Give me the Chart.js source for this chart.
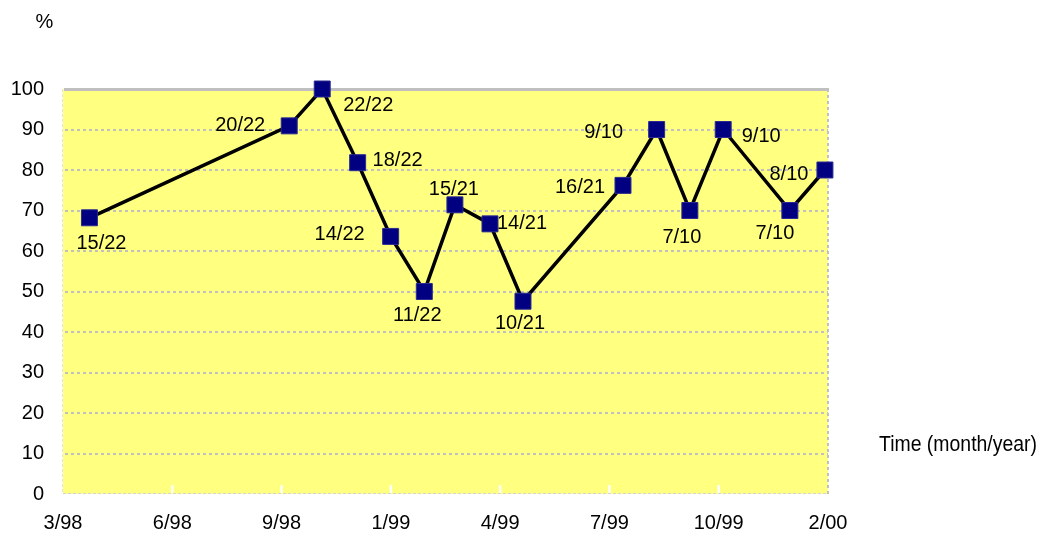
<!DOCTYPE html>
<html><head><meta charset="utf-8">
<script src="https://cdn.jsdelivr.net/npm/chart.js@4.4.0/dist/chart.umd.min.js"></script>
<style>html,body{margin:0;padding:0;background:#fff;overflow:hidden;}</style>
</head><body>
<canvas id="c" width="1045" height="538"></canvas>
<script>
// ---- data ----
const tickLabels = ['3/98','6/98','9/98','1/99','4/99','7/99','10/99','2/00'];
// x position of each observation, in units of the (equally spaced) axis ticks
const xPositions = [0.242,2.070,2.372,2.696,2.998,3.306,3.586,3.907,4.209,5.124,5.432,5.736,6.041,6.651,6.972];
const percentValues = [68.2,90.9,100,81.8,63.6,50,71.4,66.7,47.6,76.2,90,70,90,70,80];
const pointLabels = ['15/22','20/22','22/22','18/22','14/22','11/22','15/21','14/21','10/21','16/21','9/10','7/10','9/10','7/10','8/10'];
// label placement relative to each marker (pixels)
const labelOffsets = [[12,26],[-49,0],[46,16],[40,-2],[-51,-2],[-7,24],[-1,-15],[32,0],[-3,22],[-43,2],[-53,3],[-8,27],[38,7],[-15,23],[-36,4]];

const FONT = '"Liberation Sans", Arial, sans-serif';

const plotDecor = {
  id: 'plotDecor',
  beforeDatasetsDraw(chart) {
    const {ctx, chartArea: a, scales: {x, y}} = chart;
    ctx.save();
    ctx.fillStyle = '#ffff80';
    ctx.fillRect(a.left, a.top, a.right - a.left, a.bottom - a.top);
    // dotted grid lines
    ctx.strokeStyle = '#c0c0c0';
    ctx.lineWidth = 2;
    ctx.setLineDash([3, 3]);
    for (let v = 10; v < 100; v += 10) {
      const py = Math.round(y.getPixelForValue(v));
      ctx.beginPath(); ctx.moveTo(a.left + 2, py); ctx.lineTo(a.right, py); ctx.stroke();
    }
    // right border dotted
    ctx.beginPath(); ctx.moveTo(a.right, a.top); ctx.lineTo(a.right, a.bottom); ctx.stroke();
    // top line solid
    ctx.setLineDash([]);
    ctx.lineWidth = 3;
    ctx.beginPath(); ctx.moveTo(a.left + 1, y.getPixelForValue(100) + 0.5); ctx.lineTo(a.right + 1, y.getPixelForValue(100) + 0.5); ctx.stroke();
    // bottom & left light dashed borders
    ctx.lineWidth = 1;
    ctx.strokeStyle = '#d4d4d4';
    ctx.setLineDash([3, 2]);
    ctx.beginPath(); ctx.moveTo(a.left, a.bottom - 0.5); ctx.lineTo(a.right, a.bottom - 0.5); ctx.stroke();
    ctx.strokeStyle = '#e4e4e4';
    ctx.beginPath(); ctx.moveTo(a.left - 0.5, a.top); ctx.lineTo(a.left - 0.5, a.bottom); ctx.stroke();
    // white inner tick marks on x axis
    ctx.setLineDash([]);
    ctx.strokeStyle = '#ffffff';
    ctx.lineWidth = 2.5;
    for (let i = 1; i < tickLabels.length - 1; i++) {
      const px = x.getPixelForValue(i);
      ctx.beginPath(); ctx.moveTo(px, a.bottom - 1); ctx.lineTo(px, a.bottom - 9); ctx.stroke();
    }
    ctx.restore();
  },
  afterDatasetsDraw(chart) {
    const {ctx} = chart;
    const meta = chart.getDatasetMeta(0);
    ctx.save();
    ctx.fillStyle = '#000';
    ctx.font = '20px ' + FONT;
    ctx.textAlign = 'center';
    ctx.textBaseline = 'middle';
    meta.data.forEach((pt, i) => {
      ctx.fillText(pointLabels[i], pt.x + labelOffsets[i][0], pt.y + labelOffsets[i][1]);
    });
    // axis titles
    ctx.fillText('%', 44.5, 22.5);
    ctx.font = '22px ' + FONT;
    const t = 'Time (month/year)';
    const w = ctx.measureText(t).width;
    ctx.translate(958, 445);
    ctx.scale(158 / w, 1);
    ctx.fillText(t, 0, 0);
    ctx.restore();
  }
};

new Chart(document.getElementById('c'), {
  type: 'line',
  data: {
    datasets: [{
      data: xPositions.map((xv, i) => ({x: xv, y: percentValues[i]})),
      borderColor: '#000000',
      borderWidth: 3.5,
      tension: 0,
      pointStyle: 'rect',
      pointRadius: 11.3,
      pointHoverRadius: 11.3,
      pointBackgroundColor: '#000080',
      pointBorderColor: '#2a2a92',
      pointBorderWidth: 1,
      clip: false
    }]
  },
  options: {
    responsive: false,
    animation: false,
    devicePixelRatio: 1,
    layout: {padding: {left: 0, top: 89, right: 217, bottom: 0}},
    plugins: {legend: {display: false}, tooltip: {enabled: false}},
    scales: {
      x: {
        type: 'linear', min: 0, max: 7,
        afterFit: s => { s.height = 44; },
        grid: {display: false, drawTicks: false},
        border: {display: false},
        ticks: {
          stepSize: 1, autoSkip: false, maxRotation: 0, padding: 17,
          color: '#000', font: {family: FONT, size: 20},
          callback: v => tickLabels[v]
        }
      },
      y: {
        min: 0, max: 100,
        afterFit: s => { s.width = 63; },
        grid: {display: false, drawTicks: false},
        border: {display: false},
        ticks: {stepSize: 10, padding: 19, color: '#000', font: {family: FONT, size: 20}}
      }
    }
  },
  plugins: [plotDecor]
});
</script>
</body></html>
